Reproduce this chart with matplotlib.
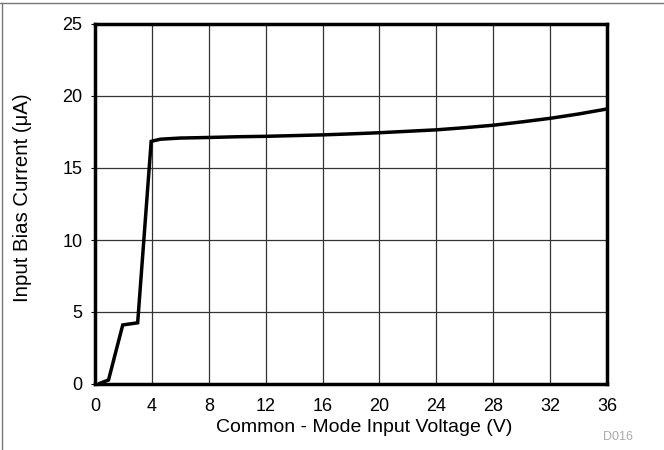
import matplotlib
matplotlib.use("Agg")
import matplotlib.pyplot as plt
from matplotlib.lines import Line2D

voltage = [0.35, 0.95, 1.95, 3.0, 3.95, 4.6, 6, 8, 10, 12, 14, 16, 18, 20, 22, 24, 26, 28, 30, 32, 34, 36]
current = [0.05, 0.28, 4.1, 4.25, 16.85, 17.0, 17.08, 17.12, 17.17, 17.2, 17.25, 17.3, 17.37, 17.45, 17.55, 17.65, 17.8, 17.97, 18.2, 18.45, 18.75, 19.1]
x_ticks = [0, 4, 8, 12, 16, 20, 24, 28, 32, 36]
y_ticks = [0, 5, 10, 15, 20, 25]

plt.rcParams['font.family'] = ['Liberation Sans', 'DejaVu Sans']

fig = plt.figure(figsize=(6.64, 4.5), dpi=100)
ax = fig.add_axes([95/664, 1 - 384/450, 512/664, 360/450])
ax.plot(voltage, current, color='black', linewidth=2.5, solid_joinstyle='miter')
ax.set_xlim(0, 36)
ax.set_ylim(0, 25)
ax.set_xticks(x_ticks)
ax.set_yticks(y_ticks)
ax.grid(True, color='#333333', linewidth=0.9)
for s in ax.spines.values():
    s.set_linewidth(2.5)
ax.tick_params(axis='x', labelsize=13, length=0, pad=10)
ax.tick_params(axis='y', labelsize=13, length=3, width=0.8, direction='out', pad=6)

fig.text(364/664, 1 - 427/450, 'Common - Mode Input Voltage (V)', fontsize=14,
         ha='center', va='center')
fig.text(23/664, 1 - 198/450, 'Input Bias Current (μA)', fontsize=14.7,
         ha='center', va='center', rotation=90)
fig.text(618/664, 1 - 437/450, 'D016', fontsize=9, color='#aaaaaa', ha='center', va='center')

fig.add_artist(Line2D([0, 1], [1 - 3/450, 1 - 3/450], transform=fig.transFigure, color='#777777', linewidth=1))
fig.add_artist(Line2D([1.5/664, 1.5/664], [0, 1 - 3/450], transform=fig.transFigure, color='#777777', linewidth=1))

fig.savefig('out.png', dpi=100)
